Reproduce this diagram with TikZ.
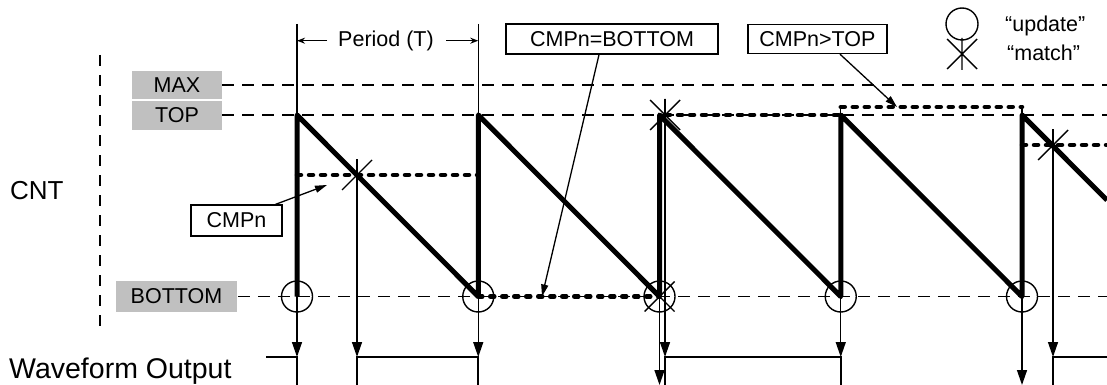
\documentclass[tikz,border=0pt]{standalone}
\usepackage{fontspec}
\setmainfont{Liberation Sans}
\usetikzlibrary{arrows.meta}
\definecolor{boxgray}{RGB}{192,192,192}
\newcommand\lblfont{\fontsize{21.5}{25}\selectfont}
\newcommand\bigfont{\fontsize{26}{30}\selectfont}
\newcommand\wavefont{\fontsize{28.5}{32}\selectfont}
\begin{document}
\begin{tikzpicture}[x=1pt,y=-1pt,
  gridline/.style={line width=1.4pt,dash pattern=on 12pt off 8pt},
  rampline/.style={line width=5pt,line join=round},
  cmpline/.style={line width=4.5pt,line cap=round,dash pattern=on 4pt off 8pt},
  fine/.style={line width=1.4pt},
  wave/.style={line width=1.6pt},
  downarrow/.style={fine,-{Triangle[length=15pt,width=10pt]}},
  leader/.style={line width=1.3pt,-{Triangle[length=12pt,width=7pt]}},
  periodarrow/.style={fine,-{Stealth[length=8pt,width=6pt]}},
  graybox/.style={fill=boxgray,inner sep=0pt,font=\lblfont},
  whitebox/.style={draw,line width=1.4pt,fill=white,inner sep=0pt,font=\lblfont},
  upd/.style={circle,draw,line width=1.4pt,minimum size=31pt,inner sep=0pt},
  mstar/.pic={\draw[line width=1.4pt] (-15,-15)--(15,15) (-15,15)--(15,-15) (0,-16)--(0,16);},
  xstar/.pic={\draw[line width=1.4pt] (-15,-15)--(15,15) (-15,15)--(15,-15);}
]
\useasboundingbox (0,0) rectangle (1107,385);

% level lines
\draw[gridline] (222,85) -- (1107,85);
\draw[gridline] (222,115) -- (1107,115);
\draw[gridline] (238,296.5) -- (1107,296.5);
\draw[gridline,dash pattern=on 11pt off 9pt] (100,55) -- (100,327);

% level labels
\node[graybox,minimum width=90pt,minimum height=28pt] (max) at (177,85) {MAX};
\node[graybox,minimum width=90pt,minimum height=29pt] (top) at (177,115.5) {TOP};
\node[graybox,minimum width=121pt,minimum height=31pt] (bot) at (176.5,296.5) {BOTTOM};

\node[font=\bigfont,inner sep=0pt,anchor=west] (cnt) at (10,190.5) {CNT};
\node[font=\wavefont,inner sep=0pt,anchor=base west] (wout) at (9,378.5) {Waveform Output};

% period marker
\coordinate (p0) at (297,24);
\coordinate (p1) at (478.25,24);
\coordinate (p1t) at (478.25,115);
\draw[fine] (p1) -- (p1t);
\node[font=\lblfont,inner sep=0pt] (per) at (386,40.7) {Period (T)};
\draw[periodarrow] (327,40.7) -- (297,40.7);
\draw[periodarrow] (446,40.7) -- (478.25,40.7);

% counter ramps
\draw[rampline] (297,296.5) -- (297,115) -- (478.25,296.5) -- (478.25,115)
  -- (659.5,296.5) -- (659.5,115) -- (840.75,296.5) -- (840.75,115)
  -- (1022,296.5) -- (1022,115) -- (1107,200.1);

% compare levels
\draw[cmpline] (297,175) -- (478.25,175);
\draw[cmpline] (478.25,296.5) -- (659.5,296.5);
\draw[cmpline] (666,115) -- (840.75,115);
\draw[cmpline] (840.75,107) -- (1022,107);
\draw[fine] (840.75,107) -- (840.75,115);
\draw[fine] (1022,107) -- (1022,115);
\draw[cmpline] (1022,145) -- (1107,145);

% update circles
\node[upd] (u1) at (297,296.5) {};
\node[upd] (u2) at (478.25,296.5) {};
\node[upd] (u3) at (659.5,296.5) {};
\node[upd] (u4) at (840.75,296.5) {};
\node[upd] (u5) at (1022,296.5) {};

% match marks
\pic at (357,175) {mstar};
\pic at (665,115) {mstar};
\pic at (659.5,296.5) {xstar};
\pic at (1053,145) {mstar};
\coordinate (m1) at (357,159);
\coordinate (m2) at (665,99);
\coordinate (m4) at (1053,129);

% waveform targets
\coordinate (w1) at (297,357);
\coordinate (w2) at (357,357);
\coordinate (w3) at (478.25,357);
\coordinate (w4) at (659.5,385);
\coordinate (w5) at (665,357);
\coordinate (w6) at (840.75,357);
\coordinate (w7) at (1022,385);
\coordinate (w8) at (1053,357);

\draw[downarrow] (p0) -- (w1);
\draw[downarrow] (m1) -- (w2);
\draw[downarrow] (u2.center) -- (w3);
\draw[downarrow] (u3.center) -- (w4);
\draw[downarrow] (m2) -- (w5);
\draw[downarrow] (u4.center) -- (w6);
\draw[downarrow] (u5.center) -- (w7);
\draw[downarrow] (m4) -- (w8);

% waveform
\draw[wave] (266,357) -- (w1) -- (297,385);
\draw[wave] (357,385) -- (w2) -- (w3) -- (478.25,385);
\draw[wave] (665,385) -- (w5) -- (w6) -- (840.75,385);
\draw[wave] (1053,385) -- (w8) -- (1107,357);

% callout boxes
\node[whitebox,minimum width=91pt,minimum height=31pt] (cmpn) at (236.5,220.5) {CMPn};
\node[whitebox,minimum width=212pt,minimum height=30pt] (cbot) at (612,39) {CMPn=BOTTOM};
\node[whitebox,minimum width=139pt,minimum height=29pt] (ctop) at (817.5,39) {CMPn>TOP};
\coordinate (a1) at (327,185);
\coordinate (a2) at (542,296.5);
\coordinate (a3) at (897,107);
\draw[leader] ([xshift=-7pt]cmpn.north east) -- (a1);
\draw[leader] ([xshift=-13pt]cbot.south) -- (a2);
\draw[leader] ([xshift=22.5pt]ctop.south) -- (a3);

% legend
\node[circle,draw,line width=1.4pt,minimum size=32pt,inner sep=0pt] (lgc) at (962,24) {};
\pic at (962,54) {mstar};
\node[font=\lblfont,inner sep=0pt,anchor=base west] (lgu) at (1005,32) {“update”};
\node[font=\lblfont,inner sep=0pt,anchor=base west] (lgm) at (1007,61) {“match”};
\end{tikzpicture}
\end{document}
